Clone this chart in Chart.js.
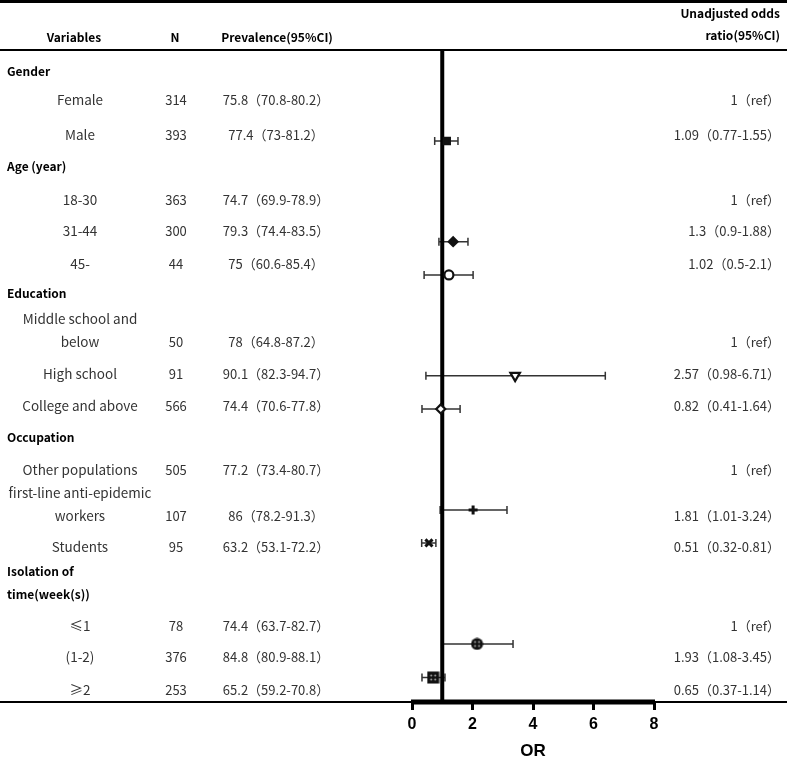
<!DOCTYPE html>
<html>
<head>
<meta charset="utf-8">
<script src="https://cdn.jsdelivr.net/npm/chart.js@4.4.1/dist/chart.umd.min.js"></script>
<style>
  body { margin: 0; background: #fff; }
  #wrap { width: 787px; height: 762px; }
</style>
</head>
<body>
<div id="wrap"><canvas id="forest"></canvas></div>
<script>
// table rows
const variables = ['Gender', 'Female', 'Male', 'Age (year)', '18-30', '31-44', '45-', 'Education',
    ['Middle school and', 'below'], 'High school', 'College and above', 'Occupation', 'Other populations',
    ['first-line anti-epidemic', 'workers'], 'Students', ['Isolation of', 'time(week(s))'], '≤1', '(1-2)', '≥2'];
const isGroup = [true, false, false, true, false, false, false, true, false, false, false, true, false,
    false, false, true, false, false, false];
const nCounts = ['', '314', '393', '', '363', '300', '44', '', '50', '91', '566', '', '505', '107', '95',
    '', '78', '376', '253'];
const prevalence = ['', '75.8（70.8-80.2）', '77.4（73-81.2）', '', '74.7（69.9-78.9）', '79.3（74.4-83.5）',
    '75（60.6-85.4）', '', '78（64.8-87.2）', '90.1（82.3-94.7）', '74.4（70.6-77.8）', '',
    '77.2（73.4-80.7）', '86（78.2-91.3）', '63.2（53.1-72.2）', '', '74.4（63.7-82.7）',
    '84.8（80.9-88.1）', '65.2（59.2-70.8）'];
const orLabels = ['', '1（ref）', '1.09（0.77-1.55）', '', '1（ref）', '1.3（0.9-1.88）', '1.02（0.5-2.1）', '',
    '1（ref）', '2.57（0.98-6.71）', '0.82（0.41-1.64）', '', '1（ref）', '1.81（1.01-3.24）',
    '0.51（0.32-0.81）', '', '1（ref）', '1.93（1.08-3.45）', '0.65（0.37-1.14）'];
// row positions on the y scale (layout)
const rowPos = [0.67, 1.53, 2.61, 3.56, 4.60, 5.55, 6.56, 7.48, 8.60, 9.94, 10.92, 11.87, 12.88,
    13.94, 15.25, 16.35, 17.67, 18.62, 19.63];

// plotted odds ratios (as drawn)
const orPoint = [1.15, 1.36, 1.22, 3.41, 0.95, 2.02, 0.56, 2.15, 0.70];
const orLow   = [0.75, 0.89, 0.40, 0.46, 0.33, 0.93, 0.32, 0.98, 0.33];
const orHigh  = [1.52, 1.85, 2.02, 6.39, 1.59, 3.14, 0.79, 3.34, 1.09];
const markerRow = [2.79, 5.88, 6.90, 9.99, 11.01, 14.11, 15.12, 18.22, 19.25];
const xTicks = [0, 2, 4, 6, 8];

function dotted(shape) {
    const c = document.createElement('canvas');
    c.width = 13; c.height = 13;
    const g = c.getContext('2d');
    g.fillStyle = '#111';
    if (shape === 'circle') {
        g.beginPath(); g.arc(6.5, 6.5, 6, 0, Math.PI * 2); g.fill();
    } else {
        g.fillRect(0.5, 0.5, 12, 12);
    }
    g.fillStyle = '#bbb';
    [[4.5, 4.5], [8.5, 4.5], [4.5, 8.5], [8.5, 8.5]].forEach(p => {
        g.beginPath(); g.arc(p[0], p[1], 0.9, 0, Math.PI * 2); g.fill();
    });
    return c;
}

const styles = ['rect', 'rectRot', 'circle', 'triangle', 'rectRot', 'cross', 'crossRot', dotted('circle'), dotted('rect')];
const fills = ['#111', '#111', '#fff', '#fff', '#fff', '#111', '#111', '#111', '#111'];
const radii = [4.5, 4.5, 4.5, 5.5, 4.5, 4.5, 5, 6, 6];
const widths = [2, 2, 2.2, 2.2, 2.2, 3, 3, 2, 2];
const rotations = [0, 0, 0, 180, 0, 0, 0, 0, 0];

const body = '"Noto Sans CJK SC", sans-serif';

const tablePlugin = {
    id: 'table',
    afterDraw(chart) {
        const ctx = chart.ctx;
        const x = chart.scales.x, y = chart.scales.y;
        const W = chart.width;
        ctx.save();
        ctx.strokeStyle = '#000';
        // rules
        ctx.lineWidth = 3;
        ctx.beginPath(); ctx.moveTo(0, 1.5); ctx.lineTo(W, 1.5); ctx.stroke();
        ctx.lineWidth = 2;
        ctx.beginPath(); ctx.moveTo(0, y.getPixelForValue(0)); ctx.lineTo(W, y.getPixelForValue(0)); ctx.stroke();
        ctx.beginPath(); ctx.moveTo(0, y.getPixelForValue(20)); ctx.lineTo(W, y.getPixelForValue(20)); ctx.stroke();
        ctx.lineWidth = 5;
        ctx.beginPath(); ctx.moveTo(x.getPixelForValue(0) - 1, y.getPixelForValue(20)); ctx.lineTo(x.getPixelForValue(8) + 1, y.getPixelForValue(20)); ctx.stroke();

        // header
        ctx.fillStyle = '#000';
        ctx.textBaseline = 'middle';
        ctx.font = 'bold 12px ' + body;
        ctx.textAlign = 'center';
        ctx.fillText('Variables', 74, 37);
        ctx.fillText('N', 175, 37);
        ctx.fillText('Prevalence(95%CI)', 277, 37);
        ctx.textAlign = 'right';
        ctx.fillText('Unadjusted odds', 780, 13);
        ctx.fillText('ratio(95%CI)', 780, 35);

        variables.forEach((v, i) => {
            const py = y.getPixelForValue(rowPos[i]);
            const lines = Array.isArray(v) ? v : [v];
            if (isGroup[i]) {
                ctx.font = 'bold 12px ' + body;
                ctx.fillStyle = '#000';
                ctx.textAlign = 'left';
                lines.forEach((t, k) => ctx.fillText(t, 7, py + (k - (lines.length - 1) / 2) * 23));
                return;
            }
            ctx.font = '13.5px ' + body;
            ctx.fillStyle = '#333';
            ctx.textAlign = 'center';
            lines.forEach((t, k) => ctx.fillText(t, 80, py + (k - (lines.length - 1) / 2) * 23));
            ctx.font = '13px ' + body;
            const ly = py + (lines.length - 1) / 2 * 23;
            ctx.fillText(nCounts[i], 176, ly);
            ctx.fillText(prevalence[i], 276, ly);
            ctx.textAlign = 'right';
            ctx.fillText(orLabels[i], 780, ly);
        });
        ctx.restore();
    }
};

const whiskerPlugin = {
    id: 'whiskers',
    beforeDatasetsDraw(chart) {
        const ctx = chart.ctx;
        const x = chart.scales.x, y = chart.scales.y;
        ctx.save();
        ctx.strokeStyle = '#333';
        ctx.lineWidth = 1.5;
        orPoint.forEach((p, i) => {
            const py = y.getPixelForValue(markerRow[i]);
            const x1 = x.getPixelForValue(orLow[i]), x2 = x.getPixelForValue(orHigh[i]);
            ctx.beginPath();
            ctx.moveTo(x1, py); ctx.lineTo(x2, py);
            ctx.moveTo(x1, py - 4); ctx.lineTo(x1, py + 4);
            ctx.moveTo(x2, py - 4); ctx.lineTo(x2, py + 4);
            ctx.stroke();
        });
        ctx.restore();
    }
};

new Chart(document.getElementById('forest'), {
    type: 'scatter',
    data: {
        datasets: [{
            label: 'OR',
            data: orPoint.map((p, i) => ({ x: p, y: markerRow[i] })),
            pointStyle: styles,
            backgroundColor: fills,
            borderColor: '#111',
            borderWidth: widths,
            pointRadius: radii,
            pointRotation: rotations,
            order: 0
        }, {
            type: 'line',
            label: 'ref',
            data: [{ x: 1, y: 0 }, { x: 1, y: 20 }],
            borderColor: '#000',
            borderWidth: 4,
            pointRadius: 0,
            order: 1
        }]
    },
    options: {
        responsive: true,
        maintainAspectRatio: false,
        animation: false,
        layout: { padding: { left: 412, right: 133, top: 50, bottom: 0 } },
        scales: {
            x: {
                type: 'linear',
                min: 0,
                max: 8,
                afterFit(scale) { scale.height = 60; },
                afterBuildTicks(scale) { scale.ticks = xTicks.map(v => ({ value: v })); },
                border: { display: false },
                grid: {
                    drawOnChartArea: false,
                    drawTicks: true,
                    tickLength: 8,
                    tickWidth: 3,
                    tickColor: '#000'
                },
                ticks: {
                    color: '#000',
                    padding: 5,
                    font: { family: '"Liberation Sans", Arial', size: 16, weight: 'bold' }
                },
                title: {
                    display: true,
                    text: 'OR',
                    color: '#000',
                    padding: { top: 4, bottom: 0 },
                    font: { family: '"Liberation Sans", Arial', size: 17, weight: 'bold' }
                }
            },
            y: {
                type: 'linear',
                display: false,
                reverse: true,
                min: 0,
                max: 20
            }
        },
        plugins: {
            legend: { display: false },
            tooltip: { enabled: false }
        }
    },
    plugins: [whiskerPlugin, tablePlugin]
});
</script>
</body>
</html>
